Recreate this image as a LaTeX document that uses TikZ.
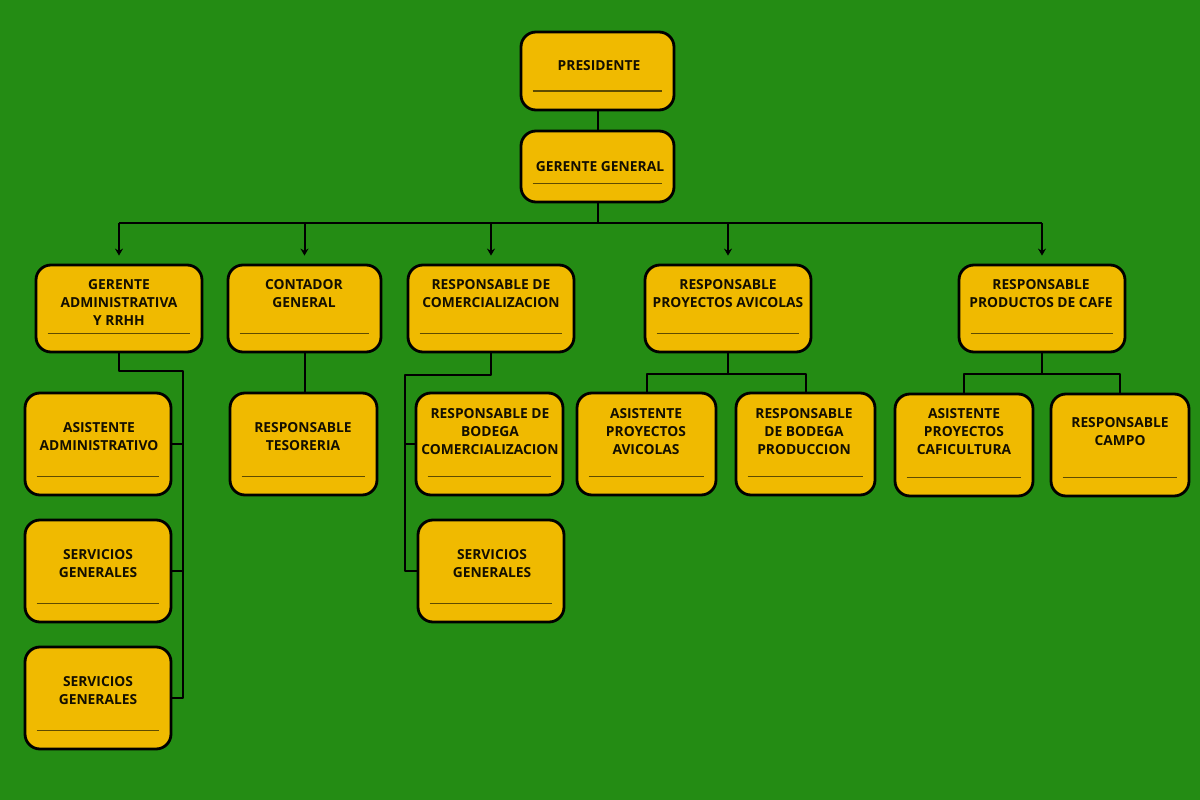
\documentclass[tikz,border=0pt]{standalone}
\usepackage{fontspec}
\setmainfont{Open Sans}
\usetikzlibrary{arrows.meta}
\definecolor{fondo}{RGB}{36,140,20}
\definecolor{caja}{RGB}{240,186,0}
\definecolor{raya}{RGB}{95,75,0}
\definecolor{tinta}{RGB}{20,15,0}
\begin{document}
\begin{tikzpicture}[x=1pt, y=-1pt, line join=round, >={Stealth[length=7pt,width=8pt]},
		font=\fontsize{13.8}{18}\selectfont\bfseries,
		box/.style={draw=black, fill=caja, line width=2.8pt, rounded corners=15pt, inner sep=0pt},
		txt/.style={text=tinta, align=center, inner sep=0pt},
		uline/.style={draw=raya, line width=1.8pt},
		con/.style={draw=black, line width=2pt},
		arr/.style={con, ->}
		]
		\useasboundingbox[fill=fondo] (0,0) rectangle (1200,800);
		% cajas
		\node[box, minimum width=153, minimum height=78] (pres) at (597.5,71) {};
		\node[box, minimum width=153, minimum height=71] (gg) at (597.5,166.5) {};
		\node[box, minimum width=166, minimum height=87] (gadm) at (119,308.5) {};
		\node[box, minimum width=153, minimum height=87] (cont) at (304.5,308.5) {};
		\node[box, minimum width=166, minimum height=87] (comer) at (491,308.5) {};
		\node[box, minimum width=166, minimum height=87] (avi) at (728,308.5) {};
		\node[box, minimum width=166, minimum height=87] (cafe) at (1042,308.5) {};
		\node[box, minimum width=146, minimum height=102] (asadm) at (98,444) {};
		\node[box, minimum width=147, minimum height=102] (teso) at (303.5,444) {};
		\node[box, minimum width=147, minimum height=102] (bodc) at (489.5,444) {};
		\node[box, minimum width=139, minimum height=102] (asavi) at (646.5,444) {};
		\node[box, minimum width=139, minimum height=102] (bodp) at (805.5,444) {};
		\node[box, minimum width=138, minimum height=102] (ascaf) at (964,445) {};
		\node[box, minimum width=138, minimum height=102] (campo) at (1120,445) {};
		\node[box, minimum width=146, minimum height=102] (sga) at (98,571) {};
		\node[box, minimum width=146, minimum height=102] (sgc) at (491,571) {};
		\node[box, minimum width=146, minimum height=102] (sgb) at (98,698) {};
		% textos
		\node[txt] (prest) at (599,66) {PRESIDENTE};
		\node[txt] (ggt) at (600,167) {GERENTE GENERAL};
		\node[txt] (gadmt) at (119,303) {GERENTE\\ADMINISTRATIVA\\Y RRHH};
		\node[txt] (contt) at (304,294) {CONTADOR\\GENERAL};
		\node[txt] (comert) at (491,294) {RESPONSABLE DE\\COMERCIALIZACION};
		\node[txt] (avit) at (728,294) {RESPONSABLE\\PROYECTOS AVICOLAS};
		\node[txt] (cafet) at (1041,294) {RESPONSABLE\\PRODUCTOS DE CAFE};
		\node[txt] (asadmt) at (99,437) {ASISTENTE\\ADMINISTRATIVO};
		\node[txt] (tesot) at (303,437) {RESPONSABLE\\TESORERIA};
		\node[txt] (bodct) at (490,432) {RESPONSABLE DE\\BODEGA\\COMERCIALIZACION};
		\node[txt] (asavit) at (646,432) {ASISTENTE\\PROYECTOS\\AVICOLAS};
		\node[txt] (bodpt) at (804,432) {RESPONSABLE\\DE BODEGA\\PRODUCCION};
		\node[txt] (ascaft) at (964,432) {ASISTENTE\\PROYECTOS\\CAFICULTURA};
		\node[txt] (campot) at (1120,432) {RESPONSABLE\\CAMPO};
		\node[txt] (sgat) at (98,564) {SERVICIOS\\GENERALES};
		\node[txt] (sgct) at (492,564) {SERVICIOS\\GENERALES};
		\node[txt] (sgbt) at (98,691) {SERVICIOS\\GENERALES};
		% rayas
		\foreach \n in {pres,gg,gadm,cont,comer,avi,cafe,asadm,teso,bodc,asavi,bodp,ascaf,campo,sga,sgc,sgb}
			\draw[uline] ([xshift=13,yshift=20]\n.south west) -- ([xshift=-13,yshift=20]\n.south east);
		% conectores
		\draw[con] (pres.south) -- (gg.north);
		\draw[con] (gg.south) -- ++(0,20) coordinate (bus);
		\draw[con] (gadm.north |- bus) -- (cafe.north |- bus);
		\foreach \n in {gadm,cont,comer,avi,cafe}
			\draw[arr] (\n.north |- bus) -- ([yshift=8]\n.north);
		\coordinate (adm) at (183,371);
		\draw[con] (gadm.south) |- (adm) |- (sgb.east);
		\draw[con] (asadm.east) -- (asadm.east -| adm);
		\draw[con] (sga.east) -- (sga.east -| adm);
		\draw[con] (cont.south) -- (cont.south |- teso.north);
		\coordinate (com) at (405,375);
		\draw[con] (comer.south) |- (com) |- (sgc.west);
		\draw[con] (bodc.west) -- (bodc.west -| com);
		\draw[con] (avi.south) -- ++(0,21) coordinate (avb);
		\draw[con] (asavi.north) |- (avb) -| (bodp.north);
		\draw[con] (cafe.south) -- ++(0,21) coordinate (cfb);
		\draw[con] (ascaf.north) |- (cfb) -| (campo.north);
\end{tikzpicture}
\end{document}
